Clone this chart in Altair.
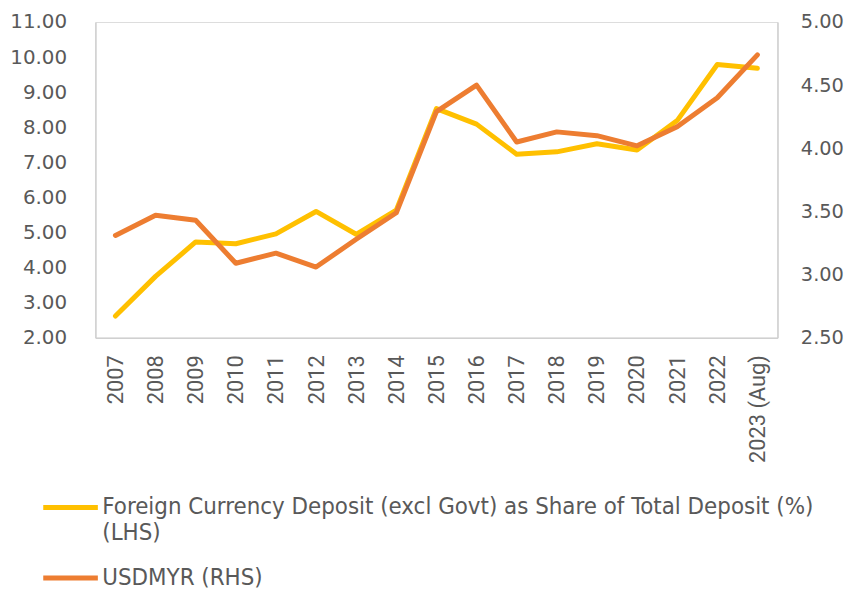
import altair as alt
import pandas as pd

years = ["2007", "2008", "2009", "2010", "2011", "2012", "2013", "2014", "2015",
         "2016", "2017", "2018", "2019", "2020", "2021", "2022", "2023 (Aug)"]
fcd_share = [2.62, 3.75, 4.73, 4.68, 4.96, 5.60, 4.95, 5.64, 8.53,
             8.09, 7.23, 7.30, 7.53, 7.35, 8.19, 9.79, 9.68]
usdmyr = [3.31, 3.47, 3.43, 3.09, 3.17, 3.06, 3.28, 3.49, 4.29,
          4.50, 4.05, 4.13, 4.10, 4.02, 4.17, 4.40, 4.74]

s1 = "Foreign Currency Deposit (excl Govt) as Share of Total Deposit (%) (LHS)"
s2 = "USDMYR (RHS)"

df = pd.concat([
    pd.DataFrame({"year": years, "value": fcd_share, "series": s1}),
    pd.DataFrame({"year": years, "value": usdmyr, "series": s2}),
])

gray_text = "#595959"
axis_line = "#D0D0D0"

color = alt.Color(
    "series:N",
    scale=alt.Scale(domain=[s1, s2], range=["#FFC000", "#ED7D31"]),
    legend=alt.Legend(
        title=None, orient="none", direction="vertical",
        legendX=-55, legendY=459,
        symbolType="stroke", symbolSize=3025, symbolStrokeWidth=5,
        labelFont="DejaVu Sans Condensed", labelFontSize=24, labelColor=gray_text,
        labelLimit=900, labelOffset=2, rowPadding=3, labelBaseline="middle",
        labelExpr="datum.label == '" + s1 + "' ? ['Foreign Currency Deposit (excl Govt) as Share of Total Deposit (%)', '(LHS)'] : datum.label",
    ),
)

x = alt.X("year:N", sort=years, title=None,
          axis=alt.Axis(labelAngle=-90, ticks=False, labelPadding=17,
                        labelFontSize=22, labelColor=gray_text, labelFont="Roboto",
                        domainColor=axis_line, domainWidth=1.5))

left = alt.Chart(df).transform_filter(alt.datum.series == s1).mark_line(
    strokeWidth=5, strokeCap="round", strokeJoin="round"
).encode(
    x=x,
    y=alt.Y("value:Q", title=None,
            scale=alt.Scale(domain=[2, 11], nice=False, zero=False),
            axis=alt.Axis(values=[2, 3, 4, 5, 6, 7, 8, 9, 10, 11], format=".2f",
                          ticks=False, grid=False, labelPadding=29,
                          labelFontSize=20, labelColor=gray_text, labelFont="DejaVu Sans",
                          domainColor=axis_line, domainWidth=1.5)),
    color=color,
)

right = alt.Chart(df).transform_filter(alt.datum.series == s2).mark_line(
    strokeWidth=5, strokeCap="round", strokeJoin="round"
).encode(
    x=x,
    y=alt.Y("value:Q", title=None,
            scale=alt.Scale(domain=[2.5, 5], nice=False, zero=False),
            axis=alt.Axis(orient="right", values=[2.5, 3, 3.5, 4, 4.5, 5], format=".2f",
                          ticks=False, grid=False, labelPadding=23,
                          labelFontSize=19.5, labelColor=gray_text, labelFont="DejaVu Sans",
                          domainColor=axis_line, domainWidth=1.5)),
    color=color,
)

chart = alt.layer(left, right).resolve_scale(y="independent").properties(
    width=687, height=318,
    autosize=alt.AutoSizeParams(type="none"),
    padding={"left": 88, "top": 12, "right": 67, "bottom": 262},
).configure_view(stroke=None).configure(background="white")

chart.save("out.html", embed_options={"renderer": "svg", "actions": False})
